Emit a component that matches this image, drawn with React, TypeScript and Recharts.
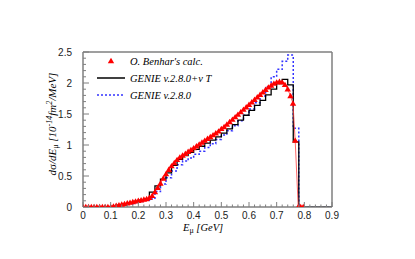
import React from "react";
import { ComposedChart, Line, XAxis, YAxis, ReferenceLine, Legend, Label } from "recharts";

// Histogram bin edges (GeV); last entry closes the final bin
const binEdges = [0, 0.02, 0.04, 0.06, 0.08, 0.1, 0.12, 0.14, 0.16, 0.18, 0.2, 0.22, 0.24, 0.26, 0.28, 0.3, 0.32, 0.34, 0.36, 0.38, 0.4, 0.42, 0.44, 0.46, 0.48, 0.5, 0.52, 0.54, 0.56, 0.58, 0.6, 0.62, 0.64, 0.66, 0.68, 0.7, 0.72, 0.74, 0.76, 0.78, 0.8, 0.82, 0.84, 0.86, 0.88, 0.9];

// GENIE v.2.8.0 + nu T (black solid histogram)
const genieNuT = [0, 0, 0, 0, 0, 0.01, 0.03, 0.05, 0.07, 0.09, 0.11, 0.13, 0.24, 0.34, 0.45, 0.55, 0.67, 0.77, 0.83, 0.88, 0.93, 0.98, 1.03, 1.08, 1.13, 1.19, 1.26, 1.33, 1.4, 1.48, 1.56, 1.64, 1.72, 1.81, 1.9, 1.99, 2.06, 1.97, 1.05, 0, 0, 0, 0, 0, 0, 0];

// GENIE v.2.8.0 (blue dotted histogram)
const genie = [0, 0, 0, 0, 0, 0, 0.02, 0.03, 0.05, 0.07, 0.09, 0.11, 0.13, 0.25, 0.37, 0.47, 0.58, 0.68, 0.74, 0.79, 0.85, 0.9, 0.96, 1.02, 1.09, 1.16, 1.23, 1.31, 1.39, 1.48, 1.58, 1.68, 1.79, 1.94, 2.1, 2.22, 2.35, 2.45, 1.27, 0, 0, 0, 0, 0, 0, 0];

// O. Benhar's calculation (red triangles)
const benharX = [0, 0.01, 0.02, 0.03, 0.04, 0.05, 0.06, 0.07, 0.08, 0.09, 0.1, 0.11, 0.12, 0.13, 0.14, 0.15, 0.16, 0.17, 0.18, 0.19, 0.2, 0.21, 0.22, 0.23, 0.24, 0.25, 0.26, 0.27, 0.28, 0.29, 0.3, 0.31, 0.32, 0.33, 0.34, 0.35, 0.36, 0.37, 0.38, 0.39, 0.4, 0.41, 0.42, 0.43, 0.44, 0.45, 0.46, 0.47, 0.48, 0.49, 0.5, 0.51, 0.52, 0.53, 0.54, 0.55, 0.56, 0.57, 0.58, 0.59, 0.6, 0.61, 0.62, 0.63, 0.64, 0.65, 0.66, 0.67, 0.68, 0.69, 0.7, 0.71, 0.72, 0.73, 0.74, 0.75, 0.759, 0.767, 0.778, 0.787, 0.796];
const benharY = [0, 0, 0, 0, 0, 0, 0, 0, 0, 0, 0, 0.01, 0.02, 0.03, 0.04, 0.05, 0.06, 0.07, 0.08, 0.09, 0.1, 0.11, 0.12, 0.13, 0.15, 0.18, 0.24, 0.31, 0.38, 0.46, 0.53, 0.6, 0.66, 0.71, 0.76, 0.8, 0.83, 0.86, 0.89, 0.92, 0.95, 0.98, 1.01, 1.04, 1.07, 1.1, 1.13, 1.16, 1.19, 1.22, 1.26, 1.29, 1.33, 1.37, 1.41, 1.45, 1.49, 1.53, 1.57, 1.61, 1.65, 1.69, 1.73, 1.77, 1.81, 1.85, 1.89, 1.93, 1.96, 1.99, 2.01, 2.02, 2.01, 1.97, 1.9, 1.79, 1.67, 1.07, 0, 0, 0];

const xMajorTicks = [0, 0.1, 0.2, 0.3, 0.4, 0.5, 0.6, 0.7, 0.8, 0.9];
const xTickLabels = ["0", "0.1", "0.2", "0.3", "0.4", "0.5", "0.6", "0.7", "0.8", "0.9"];
const yMajorTicks = [0, 0.5, 1, 1.5, 2, 2.5];
const yTickLabels = ["0", "0.5", "1", "1.5", "2", "2.5"];

const legendLabels = ["O. Benhar's calc.", "GENIE v.2.8.0+\u03bd T", "GENIE v.2.8.0"];

// minor tick positions (axis decoration)
const xTicks: number[] = [];
for (let i = 0; i <= 45; i++) xTicks.push(Math.round(i * 2) / 100);
const yTicks: number[] = [];
for (let i = 0; i <= 25; i++) yTicks.push(Math.round(i) / 10);

const histNuT = binEdges.map((x, i) => ({ x, y: genieNuT[i] }));
const histGenie = binEdges.map((x, i) => ({ x, y: genie[i] }));
const benhar = benharX.map((x, i) => ({ x, y: benharY[i] }));

const AXIS = "#7f7f7f";
const SANS = "'Liberation Sans', Arial, sans-serif";
const SERIF = "'Liberation Serif', 'Times New Roman', serif";

const findIdx = (arr: number[], v: number) => arr.findIndex((a) => Math.abs(a - v) < 1e-6);

const XTick = (props: any) => {
  const { x, y, payload } = props;
  const idx = findIdx(xMajorTicks, payload.value);
  const major = idx >= 0;
  return (
    <g>
      <line x1={x} x2={x} y1={y} y2={y - (major ? 5 : 2.5)} stroke={AXIS} strokeWidth={1} />
      {major && (
        <text x={x} y={y + 12} textAnchor="middle" fontSize={10} fontFamily={SANS} fill="#222">
          {xTickLabels[idx]}
        </text>
      )}
    </g>
  );
};

const YTick = (props: any) => {
  const { x, y, payload } = props;
  const idx = findIdx(yMajorTicks, payload.value);
  const major = idx >= 0;
  return (
    <g>
      <line x1={x} x2={x + (major ? 6 : 3)} y1={y} y2={y} stroke={AXIS} strokeWidth={1} />
      {major && (
        <text x={x - 11} y={y + 3.5} textAnchor="end" fontSize={10} fontFamily={SANS} fill="#222">
          {yTickLabels[idx]}
        </text>
      )}
    </g>
  );
};

const Triangle = (props: any) => {
  const { cx, cy, key } = props;
  if (cx == null || cy == null) return <g key={key} />;
  return <path key={key} d={`M${cx - 3.2},${cy + 2.2} L${cx + 3.2},${cy + 2.2} L${cx},${cy - 3.2} Z`} fill="#ff0000" />;
};

const XTitle = () => (
  <text x={183} y={230.5} fontSize={10.5} fontFamily={SERIF} fontStyle="italic" fill="#000">
    E<tspan fontSize={8} fontStyle="normal" dy={2}>{"\u03bc"}</tspan>
    <tspan dy={-2}>{" [GeV]"}</tspan>
  </text>
);

const YTitle = () => (
  <text
    x={56}
    y={124}
    textAnchor="middle"
    transform="rotate(-90, 56, 124)"
    fontSize={11}
    fontFamily={SERIF}
    fontStyle="italic"
    fill="#000"
  >
    d<tspan fontStyle="normal">{"\u03c3"}</tspan>/dE
    <tspan fontSize={8} fontStyle="normal" dy={2}>{"\u03bc"}</tspan>
    <tspan dy={-2}>{" [10"}</tspan>
    <tspan fontSize={8} dy={-4}>{"-14"}</tspan>
    <tspan dy={4}>{"fm"}</tspan>
    <tspan fontSize={8} dy={-4}>{"2"}</tspan>
    <tspan dy={4}>{"/MeV]"}</tspan>
  </text>
);

const LegendContent = () => (
  <svg width={200} height={60} style={{ display: "block", overflow: "visible" }}>
    <g transform="translate(-90,-52)">
      <path d="M107.8,63.2 L114.2,63.2 L111,57.8 Z" fill="#ff0000" />
      <text x={130} y={64.5} fontSize={10.5} fontFamily={SERIF} fontStyle="italic" fill="#000">
        {legendLabels[0]}
      </text>
      <line x1={97} x2={125} y1={78} y2={78} stroke="#000" strokeWidth={1.5} />
      <text x={130} y={81.5} fontSize={10.5} fontFamily={SERIF} fontStyle="italic" fill="#000">
        {legendLabels[1]}
      </text>
      <line x1={97} x2={125} y1={95} y2={95} stroke="#3333ff" strokeWidth={1.5} strokeDasharray="2 2" />
      <text x={130} y={98.5} fontSize={10.5} fontFamily={SERIF} fontStyle="italic" fill="#000">
        {legendLabels[2]}
      </text>
    </g>
  </svg>
);

export default function App() {
  return (
    <div style={{ position: "absolute", left: 0, top: 0, width: 415, height: 259, background: "#fff" }}>
      <ComposedChart width={415} height={259} margin={{ top: 52, right: 83, bottom: 0, left: 0 }}>
        <XAxis
          type="number"
          dataKey="x"
          domain={[0, 0.9]}
          ticks={xTicks}
          interval={0}
          tickSize={0}
          tickMargin={0}
          tickLine={false}
          tick={<XTick />}
          height={52}
          stroke={AXIS}
          strokeWidth={1.5}
          allowDataOverflow
        >
          <Label content={<XTitle />} />
        </XAxis>
        <YAxis
          type="number"
          dataKey="y"
          domain={[0, 2.5]}
          ticks={yTicks}
          interval={0}
          tickSize={0}
          tickMargin={0}
          tickLine={false}
          tick={<YTick />}
          width={83}
          stroke={AXIS}
          strokeWidth={1.5}
          allowDataOverflow
        >
          <Label content={<YTitle />} />
        </YAxis>
        <ReferenceLine y={2.5} stroke={AXIS} strokeWidth={1.5} />
        <ReferenceLine x={0.9} stroke={AXIS} strokeWidth={1.5} />
        <Line
          data={histGenie}
          dataKey="y"
          type="stepAfter"
          stroke="#3333ff"
          strokeWidth={1.5}
          strokeDasharray="2 2"
          dot={false}
          isAnimationActive={false}
        />
        <Line
          data={histNuT}
          dataKey="y"
          type="stepAfter"
          stroke="#000"
          strokeWidth={1.3}
          dot={false}
          isAnimationActive={false}
        />
        <Line
          data={benhar}
          dataKey="y"
          type="linear"
          stroke="#ff4040"
          strokeWidth={0.8}
          dot={<Triangle />}
          isAnimationActive={false}
        />
        <Legend
          layout="horizontal"
          verticalAlign="middle"
          align="center"
          content={<LegendContent />}
          wrapperStyle={{ position: "absolute", left: 90, top: 52, width: 200, height: 60 }}
        />
      </ComposedChart>
    </div>
  );
}
